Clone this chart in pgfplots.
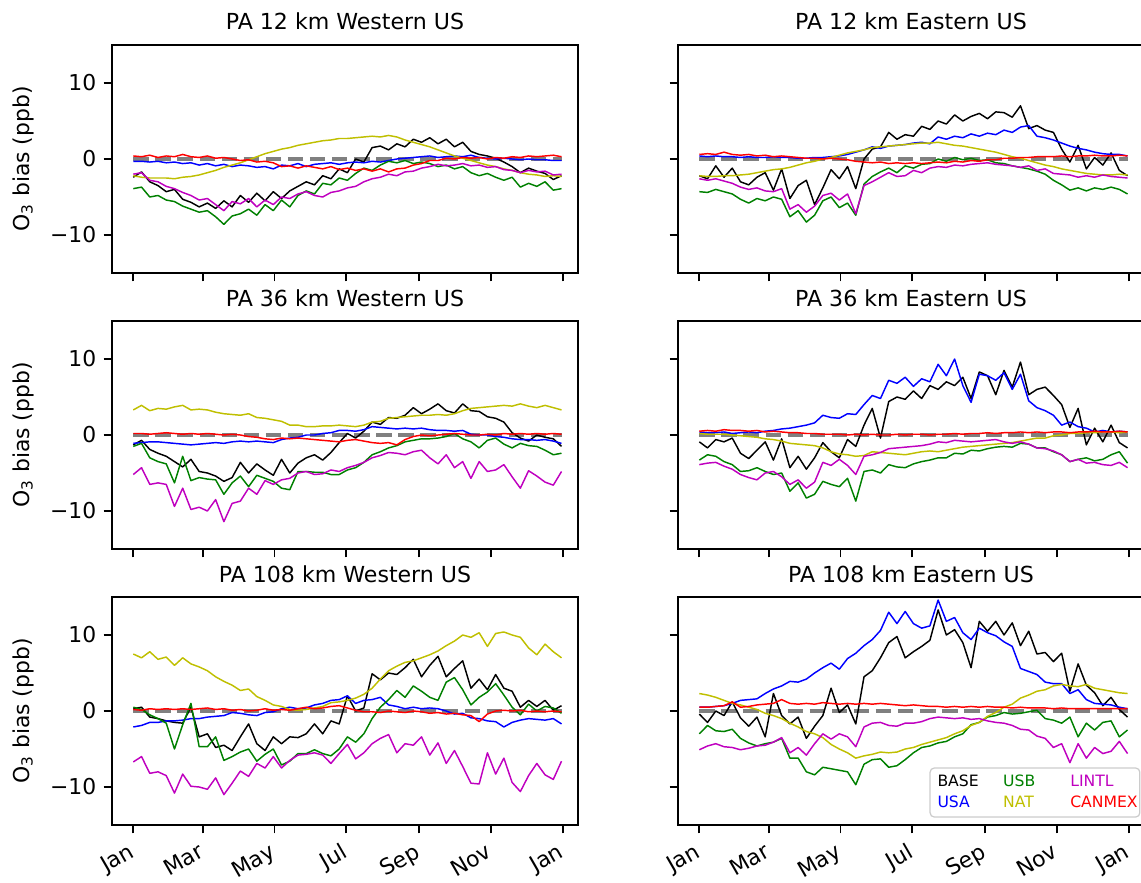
\documentclass[border=0pt]{standalone}
\usepackage{pgfplots}
\pgfplotsset{compat=1.18}
\usepackage{pgfplotstable}
\usepackage{fontspec}
\setmainfont{DejaVu Sans}
\definecolor{mgreen}{rgb}{0,0.5,0}
\definecolor{myellow}{rgb}{0.75,0.75,0}
\definecolor{mmagenta}{rgb}{0.75,0,0.75}
\definecolor{mblue}{rgb}{0,0,1}
\definecolor{mred}{rgb}{1,0,0}
\definecolor{mgray}{rgb}{0.5,0.5,0.5}

% PA 12 km Western US
\pgfplotstableread{
d base usa usb nat lintl canmex
0 -2.4 -0.3 -3.9 -2.2 -2.0 0.4
7 -1.7 -0.3 -3.7 -2.4 -1.8 0.3
14 -3.0 -0.4 -5.0 -2.5 -2.8 0.5
21 -3.5 -0.3 -4.8 -2.5 -3.0 0.2
28 -4.3 -0.5 -5.4 -2.5 -3.6 0.4
35 -4.0 -0.4 -5.6 -2.6 -3.9 0.3
42 -5.3 -0.6 -6.2 -2.4 -4.4 0.6
49 -5.7 -0.5 -6.6 -2.3 -4.8 0.3
56 -6.3 -0.8 -7.0 -2.1 -5.4 0.2
63 -5.8 -0.6 -6.8 -1.8 -5.2 0.4
70 -6.5 -0.9 -7.6 -1.5 -6.0 0.1
77 -5.5 -0.7 -8.6 -1.1 -6.8 0.2
84 -6.3 -1.0 -7.5 -0.8 -5.6 0.0
91 -4.8 -0.8 -7.2 -0.5 -5.9 -0.2
98 -5.7 -0.9 -6.6 -0.1 -5.2 -0.1
105 -4.5 -1.1 -7.4 0.3 -6.3 -0.4
112 -5.5 -1.0 -6.0 0.7 -5.4 -0.3
119 -4.3 -1.3 -6.8 1.0 -6.0 -0.5
126 -5.2 -0.8 -5.4 1.3 -5.0 -1.0
133 -4.2 -0.9 -6.3 1.5 -5.2 -0.9
140 -3.6 -0.6 -4.8 1.8 -4.6 -1.2
147 -3.0 -1.0 -4.2 2.0 -4.3 -0.9
154 -3.4 -0.7 -4.6 2.2 -4.8 -1.1
161 -2.2 -0.6 -3.2 2.4 -5.0 -1.3
168 -2.6 -0.5 -3.4 2.5 -4.4 -1.0
175 -1.3 -0.7 -2.5 2.7 -4.2 -1.4
182 -1.8 -0.5 -2.8 2.7 -3.8 -1.2
189 0.0 -0.4 -1.9 2.8 -3.6 -1.5
196 -0.4 -0.5 -1.2 2.9 -3.0 -1.3
203 1.5 -0.3 -1.5 3.0 -2.6 -1.6
210 1.7 -0.4 -0.8 2.9 -2.4 -1.3
217 1.2 -0.2 -0.3 3.1 -2.0 -1.7
224 2.0 0.0 -0.5 2.9 -2.2 -1.3
231 1.6 0.1 -0.2 2.5 -1.7 -1.2
238 2.6 0.2 -0.6 2.2 -1.6 -0.8
245 2.2 0.3 -0.4 1.9 -1.2 -0.6
252 2.8 0.4 -0.6 1.6 -1.0 -0.2
259 2.0 0.2 -1.0 1.2 -0.7 -0.2
266 2.6 0.3 -0.8 0.8 -0.9 0.1
273 1.6 0.4 -1.3 0.4 -0.8 0.0
280 2.2 0.3 -1.0 0.1 -0.6 0.2
287 1.0 0.5 -1.8 -0.2 -0.9 0.1
294 0.6 0.2 -2.2 -0.5 -0.8 0.2
301 0.4 0.1 -1.9 -0.8 -1.1 0.0
308 0.1 0.0 -2.4 -1.0 -1.0 0.2
315 -0.4 0.1 -2.8 -1.3 -1.4 0.1
322 -1.0 0.0 -2.4 -1.5 -1.5 0.3
329 -1.8 -0.1 -3.7 -1.8 -1.8 0.2
336 -1.2 0.0 -3.2 -2.0 -1.5 0.4
343 -1.6 -0.1 -3.6 -2.1 -1.7 0.3
350 -1.9 -0.1 -3.0 -2.3 -1.6 0.4
357 -2.7 -0.2 -4.1 -2.2 -2.1 0.5
364 -2.2 -0.2 -3.9 -2.3 -2.0 0.3
}\tA

% PA 12 km Eastern US
\pgfplotstableread{
d base usa usb nat lintl canmex
0 -2.2 0.4 -4.3 -2.2 -2.6 0.6
7 -2.6 0.3 -4.4 -2.3 -2.8 0.7
14 -0.9 0.4 -4.0 -2.3 -2.6 0.6
21 -2.4 0.3 -4.3 -2.2 -2.9 0.9
28 -1.2 0.3 -4.6 -2.2 -3.2 0.6
35 -3.0 0.2 -5.3 -2.1 -3.7 0.5
42 -3.4 0.3 -5.8 -2.0 -4.0 0.6
49 -2.4 0.2 -5.2 -1.8 -3.8 0.4
56 -1.8 0.2 -5.5 -1.6 -4.2 0.5
63 -4.1 0.3 -5.0 -1.4 -4.3 0.3
70 -1.3 0.2 -5.3 -1.3 -3.9 0.4
77 -5.2 0.2 -7.6 -1.1 -6.6 0.3
84 -3.5 0.1 -6.8 -0.8 -6.0 0.2
91 -2.8 0.1 -8.3 -0.5 -7.0 0.1
98 -6.0 0.2 -7.4 -0.3 -6.2 0.1
105 -3.8 0.2 -5.5 0.0 -4.8 0.0
112 -1.4 0.3 -5.0 0.2 -4.5 0.1
119 -2.6 0.4 -6.4 0.5 -5.4 0.0
126 -1.0 0.6 -5.8 0.8 -4.6 -0.1
133 -3.9 0.9 -7.4 1.0 -7.2 -0.3
140 0.0 1.2 -3.3 1.2 -3.5 -0.4
147 1.3 1.6 -2.3 1.5 -3.0 -0.5
154 1.6 1.4 -1.7 1.6 -2.4 -0.4
161 3.5 1.7 -1.2 1.7 -1.8 -0.6
168 2.6 1.8 -1.8 1.8 -2.3 -0.5
175 3.2 1.9 -0.9 1.9 -2.2 -0.6
182 3.0 2.1 -1.2 2.0 -1.5 -0.5
189 4.3 2.2 -0.7 2.1 -1.8 -0.6
196 3.9 2.0 -0.6 2.1 -1.2 -0.5
203 5.0 2.9 0.0 2.2 -1.0 -0.4
210 4.6 2.6 -0.3 2.0 -1.1 -0.5
217 5.8 3.0 0.2 1.8 -0.8 -0.3
224 5.0 2.8 -0.1 1.7 -0.9 -0.4
231 5.6 3.3 0.1 1.5 -0.7 -0.2
238 6.0 3.0 -0.2 1.3 -0.6 -0.3
245 5.3 3.4 -0.1 1.1 -0.5 -0.1
252 6.2 3.2 -0.5 0.9 -0.7 -0.1
259 6.1 3.8 -0.6 0.6 -0.8 0.1
266 5.5 3.5 -0.9 0.3 -0.9 0.1
273 7.0 4.2 -1.1 0.1 -1.1 0.2
280 4.0 4.4 -1.3 -0.2 -0.9 0.2
287 4.4 3.0 -1.6 -0.5 -1.5 0.3
294 3.8 2.8 -2.0 -0.8 -1.3 0.3
301 3.5 2.5 -2.8 -1.0 -1.9 0.3
308 1.3 2.1 -3.4 -1.3 -2.0 0.4
315 -0.4 1.7 -4.1 -1.5 -2.1 0.3
322 1.8 1.4 -3.8 -1.7 -2.4 0.4
329 -1.3 1.2 -4.2 -1.9 -2.2 0.4
336 0.2 0.9 -3.8 -2.0 -2.4 0.5
343 -0.8 0.7 -4.0 -2.1 -2.1 0.4
350 0.8 0.6 -3.7 -2.1 -2.3 0.4
357 -1.5 0.6 -4.0 -2.0 -2.4 0.5
364 -2.2 0.4 -4.6 -2.1 -2.5 0.4
}\tB

% PA 36 km Western US
\pgfplotstableread{
d base usa usb nat lintl canmex
0 -1.3 -1.1 -1.5 3.3 -5.2 0.2
7 -0.7 -1.0 -1.1 3.9 -4.3 0.2
14 -1.9 -0.9 -3.0 3.2 -6.5 0.1
21 -2.4 -0.9 -3.5 3.5 -6.3 0.2
28 -2.8 -1.0 -3.8 3.4 -6.5 0.3
35 -3.5 -1.1 -6.3 3.7 -9.4 0.2
42 -4.2 -1.2 -2.8 3.9 -7.0 0.1
49 -3.2 -1.3 -6.0 3.3 -9.8 0.2
56 -4.8 -1.2 -5.6 3.4 -9.5 0.1
63 -5.0 -1.1 -5.8 3.3 -10.0 0.2
70 -5.4 -1.0 -5.9 3.0 -8.5 0.1
77 -6.1 -1.1 -7.8 2.8 -11.4 0.0
84 -5.6 -0.9 -6.3 2.7 -9.0 0.1
91 -3.6 -0.8 -5.4 2.6 -8.7 0.0
98 -5.0 -0.9 -6.8 2.8 -7.0 -0.2
105 -3.8 -0.8 -5.3 2.3 -7.8 -0.3
112 -4.6 -0.9 -5.7 2.2 -6.0 -0.5
119 -5.3 -1.0 -6.1 2.0 -6.5 -0.6
126 -3.2 -0.6 -7.0 1.8 -5.9 -0.4
133 -5.0 -0.4 -7.2 1.3 -5.7 -0.5
140 -3.7 -0.3 -4.8 1.3 -5.0 -0.4
147 -3.0 0.0 -4.8 1.1 -4.8 -0.5
154 -2.6 0.0 -4.9 1.1 -5.2 -0.6
161 -3.3 0.2 -4.9 1.2 -5.1 -0.7
168 -2.3 0.3 -5.2 1.2 -4.6 -0.8
175 -1.0 0.6 -5.2 1.3 -4.8 -0.9
182 0.2 0.6 -4.6 1.2 -4.3 -0.7
189 -0.4 0.5 -4.3 1.1 -4.0 -0.6
196 0.5 0.7 -3.6 1.3 -3.6 -0.8
203 1.7 1.1 -2.6 1.7 -3.0 -1.0
210 1.4 1.0 -2.2 1.8 -2.7 -1.1
217 2.3 0.9 -1.7 2.2 -2.3 -1.0
224 2.2 0.8 -1.4 2.3 -2.4 -1.3
231 2.6 0.9 -0.9 2.4 -2.6 -0.6
238 3.6 0.8 -0.7 2.5 -2.2 -0.2
245 2.8 0.9 -0.5 2.6 -2.0 0.0
252 3.4 0.7 -0.5 2.6 -3.0 -0.1
259 4.1 0.6 -0.4 2.7 -3.8 0.0
266 3.2 0.6 -0.2 2.6 -2.6 0.1
273 2.9 0.5 0.2 2.8 -4.3 0.2
280 4.1 0.6 -0.5 3.2 -3.5 0.1
287 3.2 0.1 -0.9 3.5 -5.7 0.0
294 3.1 0.0 -1.7 3.6 -3.5 0.0
301 2.4 0.0 -0.7 3.7 -4.8 0.1
308 2.2 -0.2 -0.4 3.8 -4.6 0.0
315 1.7 -0.3 -1.2 3.9 -3.9 0.2
322 0.3 -0.5 -1.7 3.8 -5.5 0.1
329 -0.4 -0.6 -1.1 4.1 -7.0 0.2
336 -0.8 -0.6 -1.4 3.8 -4.7 0.1
343 0.0 -0.7 -1.5 3.6 -5.4 0.2
350 -0.3 -0.6 -2.0 3.9 -6.2 0.1
357 -0.5 -0.8 -2.6 3.6 -6.6 0.2
364 -1.5 -1.1 -2.4 3.3 -4.8 0.1
}\tC

% PA 36 km Eastern US
\pgfplotstableread{
d base usa usb nat lintl canmex
0 -0.9 0.4 -3.3 0.2 -3.9 0.5
7 -1.7 0.3 -2.6 0.1 -3.7 0.6
14 -0.6 0.3 -2.8 0.1 -3.6 0.5
21 -0.9 0.4 -3.5 0.1 -4.1 0.7
28 -0.4 0.2 -3.9 0.0 -4.5 0.6
35 -2.4 0.3 -4.8 -0.1 -5.2 0.6
42 -3.1 0.4 -4.7 -0.2 -5.6 0.5
49 -2.0 0.3 -4.3 -0.3 -5.9 0.6
56 -0.9 0.5 -4.8 -0.5 -5.0 0.4
63 -3.3 0.6 -5.2 -0.6 -4.8 0.5
70 -0.5 0.8 -5.0 -0.8 -5.5 0.4
77 -4.3 0.9 -7.4 -1.1 -6.5 0.3
84 -2.8 1.1 -6.3 -1.2 -5.9 0.3
91 -4.5 1.3 -8.3 -1.3 -7.0 0.2
98 -3.0 1.6 -7.8 -1.4 -6.2 0.2
105 -1.0 2.6 -6.1 -1.7 -3.6 0.1
112 -2.2 2.3 -6.5 -2.2 -4.0 0.1
119 -3.0 2.2 -6.8 -2.5 -3.2 0.1
126 -0.6 2.8 -5.7 -2.6 -4.0 0.0
133 -1.5 2.7 -8.7 -2.8 -5.2 0.1
140 1.3 4.0 -4.8 -2.7 -2.8 0.0
147 3.5 5.2 -4.6 -2.2 -2.6 0.1
154 -0.4 4.8 -5.0 -2.3 -2.3 0.0
161 4.4 7.2 -3.9 -2.4 -1.8 0.0
168 5.0 6.8 -4.2 -2.5 -1.7 0.1
175 4.7 7.6 -4.3 -2.6 -1.6 0.0
182 5.8 6.4 -3.8 -2.4 -1.5 0.1
189 4.8 7.4 -3.5 -2.2 -1.4 0.1
196 6.5 7.0 -3.3 -2.1 -1.2 0.0
203 6.0 9.3 -3.0 -2.2 -0.9 0.1
210 7.0 7.8 -3.0 -2.0 -1.0 0.1
217 6.5 10.0 -2.4 -1.8 -0.7 0.2
224 7.6 6.5 -2.5 -1.6 -0.8 0.1
231 4.8 4.3 -2.0 -1.5 -0.9 0.2
238 8.3 8.0 -2.1 -1.4 -0.8 0.2
245 7.8 7.8 -1.8 -1.3 -0.7 0.3
252 5.3 7.2 -1.6 -1.2 -0.6 0.2
259 8.5 8.2 -1.5 -1.1 -0.9 0.3
266 6.3 6.0 -1.6 -1.0 -1.1 0.3
273 9.6 8.0 -1.1 -0.8 -0.9 0.4
280 5.3 4.5 -1.2 -0.6 -1.2 0.3
287 6.0 3.6 -1.7 -0.4 -1.7 0.4
294 6.3 3.2 -1.7 -0.4 -1.8 0.3
301 5.2 2.6 -2.2 -0.1 -2.1 0.4
308 4.0 1.3 -2.6 0.0 -2.6 0.4
315 1.0 1.7 -3.5 0.2 -3.5 0.3
322 3.5 1.1 -3.2 0.2 -3.2 0.4
329 -1.3 0.9 -3.0 0.3 -3.7 0.4
336 0.9 0.4 -3.4 0.3 -3.6 0.5
343 -0.9 0.6 -3.2 0.4 -3.9 0.4
350 1.3 0.4 -2.6 0.4 -4.0 0.4
357 -1.0 0.5 -2.2 0.3 -3.6 0.5
364 -1.7 0.4 -3.7 0.4 -4.3 0.4
}\tD

% PA 108 km Western US
\pgfplotstableread{
d base usa usb nat lintl canmex
0 0.3 -2.1 0.5 7.5 -6.7 0.2
7 0.5 -1.9 0.2 7.0 -6.0 0.1
14 -0.8 -1.5 -0.5 7.8 -8.2 0.3
21 -1.0 -1.5 -1.0 6.8 -8.0 0.2
28 -1.3 -1.3 -1.6 7.1 -8.5 0.3
35 -1.5 -1.3 -5.0 6.0 -10.8 0.2
42 -1.6 -1.2 -1.8 7.0 -8.3 0.3
49 0.5 -1.0 1.0 6.2 -9.9 0.2
56 -3.4 -1.0 -4.7 5.8 -10.0 0.3
63 -3.0 -0.8 -4.7 5.3 -10.3 0.4
70 -4.8 -0.7 -3.4 4.5 -8.8 0.2
77 -4.5 -0.6 -6.5 3.9 -11.0 0.3
84 -5.2 -0.2 -6.0 3.4 -9.5 0.1
91 -3.4 -0.3 -5.4 2.7 -7.9 0.2
98 -1.7 -0.5 -5.0 2.9 -8.6 0.0
105 -4.3 -0.6 -6.6 1.9 -6.9 0.1
112 -5.2 -0.2 -5.7 1.4 -7.5 0.3
119 -3.4 -0.1 -5.0 0.8 -6.0 0.1
126 -4.3 0.3 -7.1 0.6 -7.5 0.2
133 -3.4 0.5 -6.6 0.2 -6.5 0.1
140 -3.5 0.3 -5.6 0.1 -5.8 0.3
147 -3.0 0.4 -5.6 0.2 -5.7 0.5
154 -1.7 0.8 -5.1 0.4 -5.5 0.3
161 -3.0 1.0 -5.6 0.6 -5.8 0.4
168 -1.3 1.4 -5.9 1.1 -6.9 0.6
175 -1.7 1.5 -5.0 1.2 -5.6 0.7
182 2.0 2.0 -3.4 1.4 -4.4 0.4
189 0.0 1.0 -4.1 1.7 -6.3 0.1
196 0.4 1.4 -3.0 2.2 -5.5 -0.1
203 4.9 1.5 -1.0 3.0 -4.3 -0.1
210 4.1 1.8 0.5 4.2 -3.6 -0.2
217 5.0 0.8 1.5 5.3 -3.1 0.0
224 4.8 0.6 2.7 5.9 -5.5 -0.1
231 5.7 0.3 1.8 6.4 -4.3 -0.2
238 6.8 0.5 3.3 6.6 -4.5 0.0
245 4.5 0.3 2.6 7.0 -3.4 -0.1
252 6.0 0.4 1.8 7.4 -5.8 -0.3
259 7.2 0.3 1.4 7.9 -4.2 -0.2
266 4.5 0.0 3.8 8.6 -6.9 -0.4
273 5.6 -0.4 4.4 9.2 -5.2 -0.3
280 6.6 -0.3 2.8 10.0 -7.3 -0.5
287 3.0 -0.9 0.8 9.7 -9.5 -0.6
294 4.2 -1.0 1.8 10.3 -9.6 -1.4
301 2.8 -1.3 2.5 8.5 -5.5 -0.4
308 4.8 -1.4 3.6 10.2 -8.3 0.0
315 3.0 -2.1 2.1 10.4 -6.2 0.1
322 2.6 -1.5 0.5 10.0 -9.4 0.0
329 0.5 -1.2 -0.5 9.7 -10.6 0.1
336 1.4 -1.0 0.9 8.3 -8.5 -0.1
343 0.6 -1.1 0.0 7.4 -6.9 0.0
350 1.4 -1.2 0.6 8.8 -8.4 -0.1
357 0.1 -1.0 0.4 7.8 -9.0 0.0
364 0.7 -1.7 -0.3 7.0 -6.6 -0.1
}\tE

% PA 108 km Eastern US
\pgfplotstableread{
d base usa usb nat lintl canmex
0 -0.4 0.5 -3.0 2.3 -5.1 0.5
7 -1.5 0.5 -1.9 2.1 -4.6 0.5
14 0.0 0.6 -2.6 1.8 -4.3 0.6
21 -0.6 0.7 -2.7 1.4 -4.7 0.7
28 1.2 1.0 -2.4 1.0 -4.8 1.2
35 -0.9 1.4 -3.6 0.8 -5.1 0.5
42 -2.0 1.5 -4.2 0.5 -4.9 0.6
49 -0.8 1.6 -4.6 0.2 -4.6 0.8
56 -3.4 2.3 -4.3 -0.3 -4.5 0.9
63 2.3 2.9 -4.1 -0.6 -4.1 1.0
70 -0.6 3.3 -3.6 -1.0 -3.5 1.5
77 -1.7 3.9 -6.2 -1.6 -5.5 1.0
84 -0.8 3.8 -6.2 -2.1 -4.8 0.9
91 -3.6 4.2 -8.0 -2.7 -5.8 1.0
98 -2.0 5.0 -8.4 -3.0 -4.3 0.9
105 -0.6 5.7 -7.4 -3.5 -3.0 1.1
112 3.0 6.3 -7.6 -4.4 -3.7 1.0
119 -0.2 5.5 -7.8 -5.0 -3.0 0.9
126 0.8 6.9 -8.0 -5.5 -3.4 1.0
133 -1.7 7.6 -9.7 -6.2 -4.7 0.9
140 4.5 8.6 -7.0 -5.9 -2.1 1.0
147 5.3 9.4 -6.4 -5.7 -1.6 0.9
154 7.0 10.6 -6.3 -5.4 -1.5 1.0
161 9.0 13.0 -7.4 -5.5 -1.9 0.9
168 9.8 11.5 -7.2 -5.4 -2.0 0.8
175 7.0 13.1 -6.4 -5.0 -1.6 0.7
182 7.8 11.5 -5.5 -4.8 -1.6 0.8
189 8.5 10.9 -4.8 -4.4 -1.4 0.7
196 9.3 11.2 -4.6 -4.1 -1.0 0.6
203 13.3 14.6 -4.2 -3.8 -0.8 0.6
210 10.0 11.8 -4.0 -3.5 -0.9 0.5
217 10.7 12.3 -3.4 -3.0 -1.0 0.6
224 9.0 10.3 -3.0 -2.6 -0.9 0.5
231 5.7 9.4 -1.8 -1.9 -1.1 0.6
238 11.8 10.9 -1.5 -1.5 -1.0 0.5
245 10.5 10.3 -0.8 -0.7 -1.3 0.6
252 11.8 9.9 -0.6 -0.2 -1.5 0.5
259 10.0 9.1 -0.2 0.5 -1.6 0.5
266 11.6 8.5 -0.4 0.9 -1.9 0.4
273 8.6 5.6 -0.3 1.7 -2.4 0.5
280 10.5 5.2 -0.1 2.1 -2.5 0.4
287 7.5 4.8 0.1 2.6 -3.3 0.4
294 7.7 3.8 -1.0 2.8 -3.6 0.4
301 6.5 3.6 -1.2 3.3 -4.8 0.3
308 7.6 3.6 -1.6 3.5 -4.3 0.4
315 2.6 2.3 -0.8 3.3 -6.8 0.3
322 6.2 2.8 -3.4 3.2 -4.3 0.3
329 3.4 1.5 -1.6 3.5 -6.2 0.3
336 2.4 1.0 -2.5 3.0 -4.8 0.3
343 0.7 0.9 -1.5 2.8 -5.6 0.3
350 1.8 0.8 -1.3 2.6 -5.3 0.3
357 0.2 0.5 -3.4 2.4 -4.0 0.3
364 -0.8 0.3 -2.5 2.3 -5.6 0.3
}\tF

\pgfplotsset{
  panel/.style={
    scale only axis, width=223.68pt, height=109.44pt,
    anchor=south west,
    xmin=-18.1, xmax=378, ymin=-15, ymax=15,
    xtick={0,59,120,181,243,304,365}, xticklabels={},
    ytick={-10,0,10}, yticklabels={},
    tick pos=left, tick align=outside,
    major tick length=4pt,
    tick style={black, line width=0.8pt},
    axis line style={black, line width=0.8pt},
    tick label style={font=\fontsize{10.5}{12.6}\selectfont},
    label style={font=\fontsize{10.5}{12.6}\selectfont},
    every axis title/.style={at={(axis description cs:0.5,1)}, anchor=base, yshift=7.2pt, font=\fontsize{10.6}{12.7}\selectfont},
    every axis plot/.append style={line width=0.7pt, line join=round},
  },
  leftcol/.style={
    yticklabels={−10,0,10},
    ylabel={O\textsubscript{3} bias (ppb)},
    y label style={at={(axis description cs:-0.191,0.5)}, anchor=center},
  },
  bottomrow/.style={
    xticklabels={Jan,Mar,May,Jul,Sep,Nov,Jan},
    xticklabel style={rotate=30, anchor=north east, xshift=-1pt, yshift=1.2pt},
  },
}

\newcommand{\series}[1]{%
  \addplot[mgray, line width=2pt, dash pattern=on 7.4pt off 3.2pt] coordinates {(0,0) (364,0)};
  \addplot[black] table[x=d, y=base] {#1};
  \addplot[mblue] table[x=d, y=usa] {#1};
  \addplot[mgreen] table[x=d, y=usb] {#1};
  \addplot[myellow] table[x=d, y=nat] {#1};
  \addplot[mmagenta] table[x=d, y=lintl] {#1};
  \addplot[mred] table[x=d, y=canmex] {#1};
}

\begin{document}
\begin{tikzpicture}
\begin{axis}[panel, leftcol, at={(53.76pt,292.32pt)}, title={PA 12 km Western US}]
\series{\tA}
\end{axis}
\begin{axis}[panel, at={(325.44pt,292.32pt)}, title={PA 12 km Eastern US}]
\series{\tB}
\end{axis}
\begin{axis}[panel, leftcol, at={(53.76pt,159.84pt)}, title={PA 36 km Western US}]
\series{\tC}
\end{axis}
\begin{axis}[panel, at={(325.44pt,159.84pt)}, title={PA 36 km Eastern US}]
\series{\tD}
\end{axis}
\begin{axis}[panel, leftcol, bottomrow, at={(53.76pt,27.36pt)}, title={PA 108 km Western US}]
\series{\tE}
\end{axis}
\begin{axis}[panel, bottomrow, at={(325.44pt,27.36pt)}, title={PA 108 km Eastern US}]
\series{\tF}
\draw[draw=black!20, fill=white, fill opacity=0.8, rounded corners=2pt, line width=0.6pt]
  (axis description cs:0.541,0.035) rectangle (axis description cs:0.991,0.25);
\begin{scope}[every node/.style={anchor=base west, inner sep=0pt, font=\fontsize{7.5}{9}\selectfont}]
\node[text=black] at (axis description cs:0.556,0.171) {BASE};
\node[text=mgreen] at (axis description cs:0.697,0.171) {USB};
\node[text=mmagenta] at (axis description cs:0.841,0.171) {LINTL};
\node[text=mblue] at (axis description cs:0.556,0.0746) {USA};
\node[text=myellow] at (axis description cs:0.697,0.0746) {NAT};
\node[text=mred] at (axis description cs:0.841,0.0746) {CANMEX};
\end{scope}
\end{axis}
\pgfresetboundingbox
\useasboundingbox (0,0) rectangle (547.68pt,423.36pt);
\end{tikzpicture}
\end{document}
